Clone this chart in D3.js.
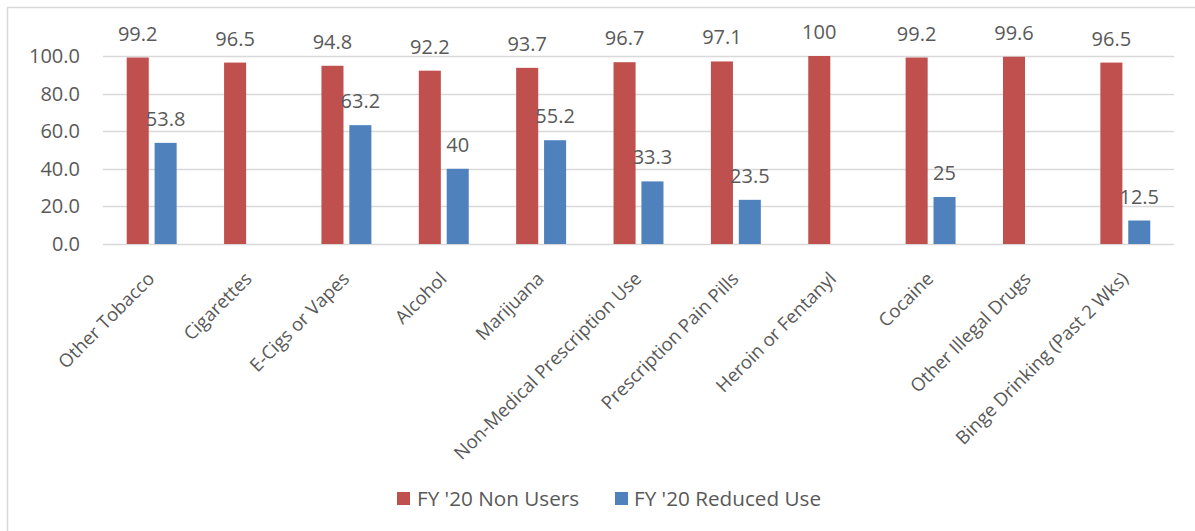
<!DOCTYPE html>
<html>
<head>
<meta charset="utf-8">
<script src="https://cdn.jsdelivr.net/npm/d3@7"></script>
<style>
  html, body { margin: 0; padding: 0; background: #fff; }
  svg { display: block; }
  text { font-family: "Open Sans", "Noto Sans", sans-serif; fill: #595959; }
</style>
</head>
<body>
<svg id="chart" width="1195" height="531"></svg>
<script>
// Substance categories along the x axis
const categories = [
  "Other Tobacco", "Cigarettes", "E-Cigs or Vapes", "Alcohol", "Marijuana",
  "Non-Medical Prescription Use", "Prescription Pain Pills", "Heroin or Fentanyl",
  "Cocaine", "Other Illegal Drugs", "Binge Drinking (Past 2 Wks)"
];
// FY '20 Non Users (%)
const nonUsers = [99.2, 96.5, 94.8, 92.2, 93.7, 96.7, 97.1, 100, 99.2, 99.6, 96.5];
// FY '20 Reduced Use (%); null where no value was reported
const reducedUse = [53.8, null, 63.2, 40, 55.2, 33.3, 23.5, null, 25, null, 12.5];
// Y axis ticks
const yTicks = [0, 20, 40, 60, 80, 100];

const seriesNames = ["FY '20 Non Users", "FY '20 Reduced Use"];
const seriesColors = ["#C0504D", "#4F81BD"];

const svg = d3.select("#chart");

// Outer frame (only the top and left edges fall inside the canvas)
svg.append("rect")
  .attr("x", 7.5).attr("y", 7.5)
  .attr("width", 1200).attr("height", 540)
  .attr("fill", "none").attr("stroke", "#D9D9D9").attr("stroke-width", 1.5);

const plot = { left: 103, right: 1174, top: 56, bottom: 244 };

const x0 = d3.scaleBand().domain(categories).range([plot.left, plot.right]).padding(0);
const x1 = d3.scaleBand().domain([0, 1]).range([0, x0.bandwidth()])
  .paddingInner(0.21).paddingOuter(0.85);
const y = d3.scaleLinear().domain([0, 100]).range([plot.bottom, plot.top]);

// Gridlines
svg.append("g").selectAll("line").data(yTicks).join("line")
  .attr("x1", plot.left).attr("x2", plot.right)
  .attr("y1", d => Math.round(y(d)) + 0.5).attr("y2", d => Math.round(y(d)) + 0.5)
  .attr("stroke", "#D9D9D9").attr("stroke-width", 1.5);

// Y axis labels
const yAxis = d3.axisLeft(y).tickValues(yTicks).tickFormat(d3.format(".1f")).tickSize(0).tickPadding(0);
const yg = svg.append("g").attr("transform", `translate(${plot.left - 23},0)`).call(yAxis);
yg.select(".domain").remove();
yg.selectAll("text").attr("font-size", 20).attr("fill", "#595959")
  .style("font-family", '"Open Sans", sans-serif');

// Bars and value labels
const series = [nonUsers, reducedUse];
series.forEach((vals, si) => {
  const rows = categories.map((c, i) => ({ c, v: vals[i] })).filter(d => d.v != null);
  svg.append("g").selectAll("rect").data(rows).join("rect")
    .attr("x", d => x0(d.c) + x1(si))
    .attr("y", d => y(d.v))
    .attr("width", x1.bandwidth())
    .attr("height", d => y(0) - y(d.v))
    .attr("fill", seriesColors[si]);
  svg.append("g").selectAll("text").data(rows).join("text")
    .attr("x", d => x0(d.c) + x1(si) + x1.bandwidth() / 2)
    .attr("y", d => y(d.v) - 17)
    .attr("text-anchor", "middle")
    .attr("font-size", 20)
    .text(d => d.v);
});

// Rotated category labels
const xAxis = d3.axisBottom(x0).tickSize(0).tickPadding(0);
const xg = svg.append("g").attr("transform", `translate(0,${plot.bottom})`).call(xAxis);
xg.select(".domain").remove();
xg.selectAll("text")
  .attr("font-size", 18.5)
  .attr("fill", "#595959")
  .style("font-family", '"Open Sans", sans-serif')
  .attr("text-anchor", "end")
  .attr("dy", 0)
  .attr("y", 0)
  .attr("transform", "translate(4,36) rotate(-45)");

// Legend
const legend = svg.append("g");
const legendItems = [
  { sx: 397, tx: 417 },
  { sx: 615, tx: 634 }
];
seriesNames.forEach((name, i) => {
  legend.append("rect")
    .attr("x", legendItems[i].sx).attr("y", 492)
    .attr("width", 13).attr("height", 13)
    .attr("fill", seriesColors[i]);
  legend.append("text")
    .attr("x", legendItems[i].tx).attr("y", 498.5)
    .attr("dy", "0.35em")
    .attr("font-size", 20.7)
    .text(name);
});
</script>
</body>
</html>
